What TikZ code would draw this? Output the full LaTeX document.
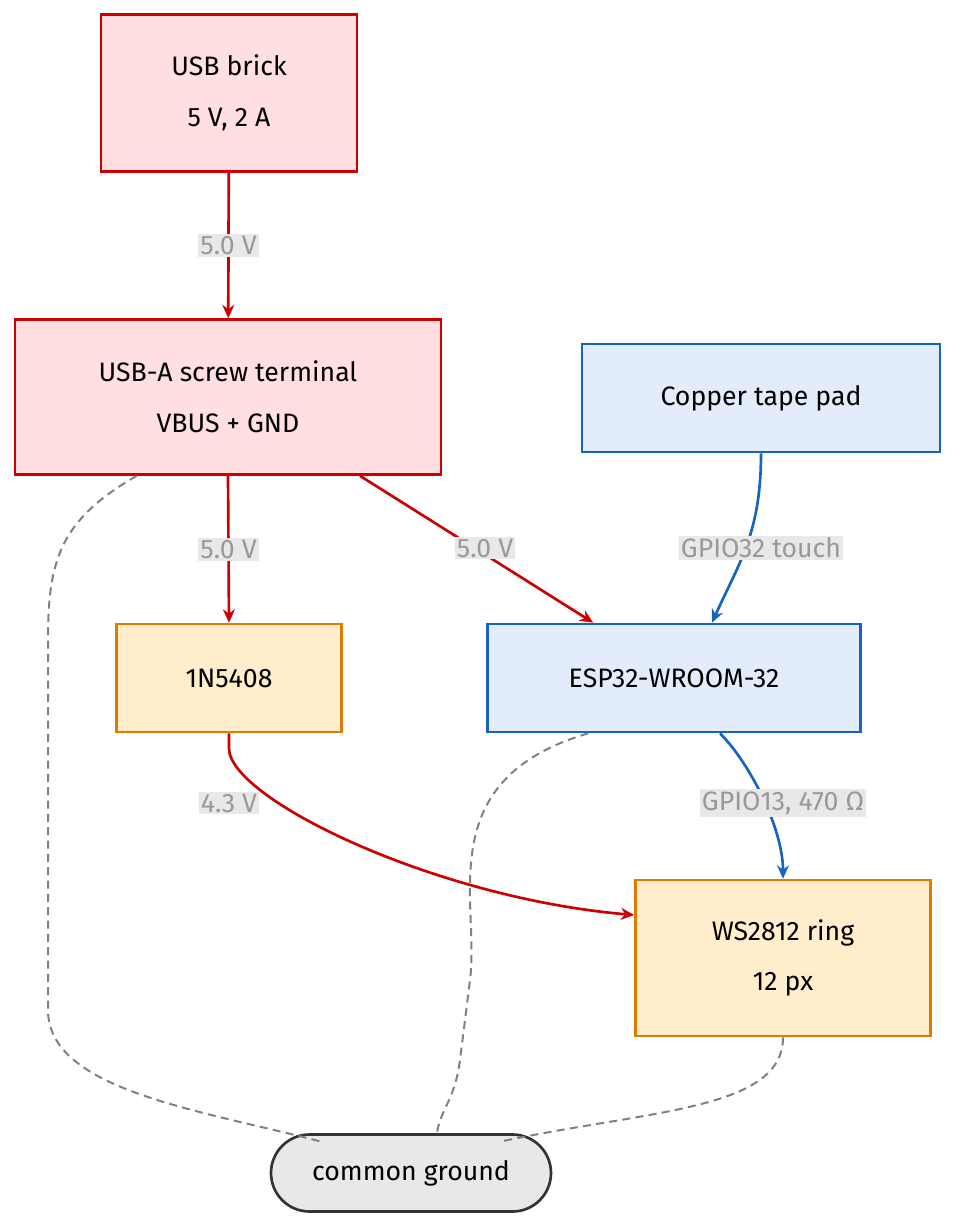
\documentclass[tikz,border=0pt]{standalone}
\usepackage{fontspec}
\setmainfont{Fira Sans}
\usetikzlibrary{calc,arrows.meta,shapes.misc}
\definecolor{rs}{HTML}{CC0000}\definecolor{rf}{HTML}{FFDFE0}
\definecolor{bs}{HTML}{1565C0}\definecolor{bf}{HTML}{E3ECFA}
\definecolor{os}{HTML}{E07B00}\definecolor{of}{HTML}{FFEDCC}
\definecolor{gs}{HTML}{333333}\definecolor{gf}{HTML}{E8E8E8}
\definecolor{lt}{HTML}{999999}
\begin{document}
\begin{tikzpicture}[x=0.75pt,y=-0.75pt,
 box/.style={draw,line width=2pt,font=\fontsize{20}{38}\selectfont,align=center,inner sep=0pt},
 redbox/.style={box,draw=rs,fill=rf},
 bluebox/.style={box,draw=bs,fill=bf},
 orbox/.style={box,draw=os,fill=of},
 lab/.style={fill=gf,text=lt,font=\fontsize{20}{24}\selectfont,inner sep=1.5pt},
 redln/.style={draw=rs,line width=2pt,-{Stealth[length=10pt,width=9pt]}},
 blueln/.style={draw=bs,line width=2pt,-{Stealth[length=10pt,width=9pt]}},
 gnd/.style={draw=gray,line width=1.5pt,dash pattern=on 6pt off 4pt}]
\useasboundingbox (0,0) rectangle (957,1230);
\node[redbox,minimum width=192pt,minimum height=117.75pt] (brick) at (229,93) {USB brick\\5 V, 2 A};
\node[redbox,minimum width=319.5pt,minimum height=116.25pt] (term) at (228,397) {USB-A screw terminal\\VBUS + GND};
\node[bluebox,minimum width=268.5pt,minimum height=81pt] (cu) at (761,398) {Copper tape pad};
\node[orbox,minimum width=168.75pt,minimum height=81pt] (dio) at (229,678) {1N5408};
\node[bluebox,minimum width=279.75pt,minimum height=81pt] (esp) at (674,678) {ESP32-WROOM-32};
\node[orbox,minimum width=221.25pt,minimum height=117pt] (ws) at (783,958) {WS2812 ring\\12 px};
\node[draw=gs,fill=gf,line width=2pt,rounded rectangle,minimum width=210pt,minimum height=57.75pt,font=\fontsize{20}{24}\selectfont,inner sep=0pt] (gr) at (411,1173) {common ground};
\draw[redln] (brick) -- node[lab]{5.0 V} (term);
\draw[redln] (term.south) -- node[lab]{5.0 V} (dio.north);
\draw[redln] ($(term.south)+(132,0)$) -- ($(esp.north west)+(107,0)$);
\node[lab] at (485,548) {5.0 V};
\draw[blueln] (cu.south) .. controls ++(0,80) and ($(esp.north)+(65,-60)$) .. ($(esp.north)+(38,0)$);
\node[lab] at (761,548) {GPIO32 touch};
\draw[redln] (dio.south) -- ++(0,15) .. controls ++(0,50) and ($(ws.west)+(-200,-60)$) .. ($(ws.west)+(0,-43)$);
\node[lab] at (229,803) {4.3 V};
\draw[blueln] ($(esp.south)+(46,0)$) .. controls ++(30,30) and ($(ws.north)+(0,-50)$) .. (ws.north);
\node[lab] at (783,803) {GPIO13, 470 Ω};
\draw[gnd] ($(term.south west)+(123,0)$) .. controls (60,520) and (48,560) .. (48,640) -- (48,1010) .. controls (48,1090) and (200,1110) .. ($(gr.north west)+(10,8)$);
\draw[gnd] ($(esp.south west)+(102,0)$) .. controls (430,780) and (480,900) .. (470,980) -- (460,1060) .. controls (455,1100) and (440,1110) .. ($(gr.north)+(26,0)$);
\draw[gnd] (ws.south) .. controls (783,1110) and (650,1110) .. ($(gr.north east)+(-10,8)$);
\end{tikzpicture}
\end{document}
